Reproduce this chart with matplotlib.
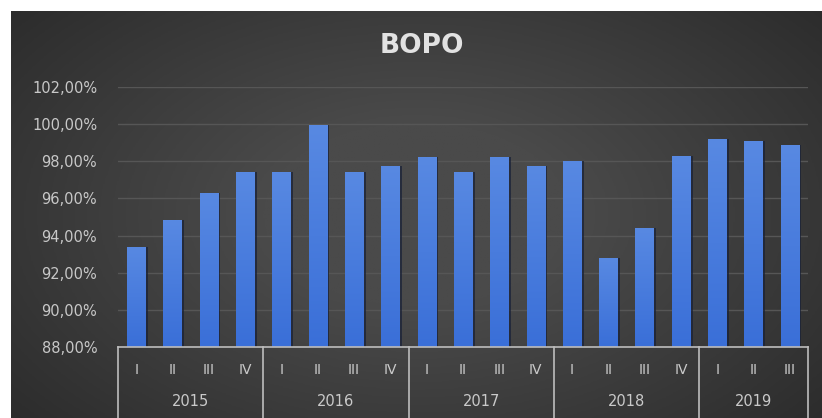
import numpy as np
import matplotlib
matplotlib.use("Agg")
import matplotlib.pyplot as plt
from matplotlib.colors import LinearSegmentedColormap
from matplotlib.ticker import FuncFormatter
import matplotlib.transforms as mtransforms

years = ["2015", "2016", "2017", "2018", "2019"]
quarters = ["I", "II", "III", "IV", "I", "II", "III", "IV", "I", "II", "III", "IV",
            "I", "II", "III", "IV", "I", "II", "III"]
quarters_per_year = [4, 4, 4, 4, 3]
bopo = [93.40, 94.84, 96.28, 97.44,
        97.41, 99.96, 97.41, 97.77,
        98.22, 97.44, 98.22, 97.75,
        98.04, 92.77, 94.39, 98.29,
        99.19, 99.08, 98.87]

W, H = 822, 418
fig = plt.figure(figsize=(W / 100, H / 100), dpi=100)
fig.patch.set_facecolor("white")

# dark panel with a soft radial glow
bg = fig.add_axes([11 / W, 0, (W - 11) / W, (H - 11) / H])
bg.set_axis_off()
yy, xx = np.mgrid[0:1:300j, 0:1:600j]
r = np.sqrt(((xx - 0.5) / 0.75) ** 2 + ((yy - 0.5) / 0.9) ** 2)
glow = np.clip(1 - r, 0, 1)
bg_cmap = LinearSegmentedColormap.from_list("bg", ["#262626", "#4a4a4a"])
bg.imshow(glow, cmap=bg_cmap, aspect="auto", extent=[0, 1, 0, 1], vmin=0, vmax=0.75)
bg.set_xlim(0, 1)
bg.set_ylim(0, 1)

ax_bottom, ax_h = 71.3, 259.4
ax = fig.add_axes([118 / W, ax_bottom / H, 690 / W, ax_h / H])
ax.patch.set_alpha(0)

x = np.arange(len(bopo))
ymin, ymax = 88, 102
bar_w = 0.5

# shadow behind the bars
ax.bar(x + 0.05, np.array(bopo) - ymin, bar_w + 0.04, bottom=ymin,
       color="#1a2238", alpha=0.75, zorder=2)
bars = ax.bar(x, np.array(bopo) - ymin, bar_w, bottom=ymin,
              color="#4178dc", zorder=3)

bar_cmap = LinearSegmentedColormap.from_list("bar", ["#3a6fd8", "#5889e2"])
grad = np.linspace(0, 1, 100).reshape(-1, 1)
for b in bars:
    x0, w, h = b.get_x(), b.get_width(), b.get_y() + b.get_height()
    im = ax.imshow(grad, cmap=bar_cmap, aspect="auto", origin="lower",
                   extent=[x0, x0 + w, ymin, h], zorder=4)
    im.set_clip_path(b)

ax.set_xlim(-0.5, len(bopo) - 0.5)
ax.set_ylim(ymin, ymax)
ax.set_yticks(np.arange(88, 103, 2))
ax.yaxis.set_major_formatter(FuncFormatter(lambda v, p: f"{v:.2f}%".replace(".", ",")))
ax.tick_params(axis="y", length=0, pad=15, labelsize=10.5, labelcolor="#c8c8c8")
ax.set_xticks([])
ax.grid(axis="y", color="#565656", linewidth=1, zorder=0)
ax.set_axisbelow(True)
for s in ax.spines.values():
    s.set_visible(False)

# two-level category axis
line_c = "#bdbdbd"
text_c = "#cacaca"
trans = mtransforms.blended_transform_factory(ax.transData, ax.transAxes)
ax.plot([-0.5, len(bopo) - 0.5], [0, 0], transform=trans, color=line_c,
        lw=1.2, clip_on=False, zorder=5)
bottom_ax = -ax_bottom / ax_h
edges = np.concatenate([[0], np.cumsum(quarters_per_year)]) - 0.5
for e in edges:
    ax.plot([e, e], [0, bottom_ax], transform=trans, color=line_c, lw=1.2,
            clip_on=False, zorder=5)
for i, q in enumerate(quarters):
    ax.text(i, -0.09, q, transform=trans, ha="center", va="center",
            fontsize=10, color=text_c)
for yr, a, b in zip(years, edges[:-1], edges[1:]):
    ax.text((a + b) / 2, -0.212, yr, transform=trans, ha="center", va="center",
            fontsize=10.5, color=text_c)

fig.text(422 / W, 1 - 46 / H, "BOPO", ha="center", va="center", fontsize=19,
         fontweight="bold", color="#e2e2e2")

fig.savefig("out.png", dpi=100)
